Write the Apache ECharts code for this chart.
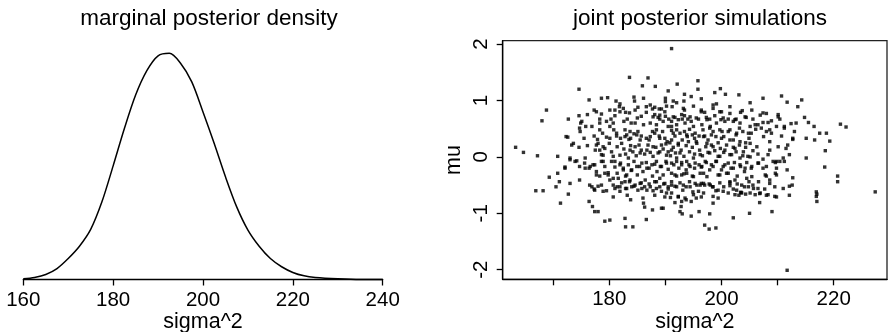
<!DOCTYPE html>
<html>
<head>
<meta charset="utf-8">
<script src="https://cdn.jsdelivr.net/npm/echarts@6/dist/echarts.min.js"></script>
<style>
  html, body { margin: 0; padding: 0; background: #fff; }
  #chart { width: 892px; height: 332px; }
</style>
</head>
<body>
<div id="chart"></div>
<script>
// Marginal posterior density of sigma^2 (relative height)
const densitySigma2 = [160, 162.5, 165, 167.5, 170, 172.5, 175, 177.5, 180, 182.5, 185, 187.5, 190, 192.5,
  195, 197.5, 200, 202.5, 205, 207.5, 210, 212.5, 215, 217.5, 220, 222.5, 225, 230, 235, 240];
const densityValues = [0.003, 0.009, 0.022, 0.048, 0.092, 0.146, 0.220, 0.341, 0.499, 0.663, 0.810, 0.917, 0.982, 0.993,
  0.950, 0.868, 0.736, 0.597, 0.451, 0.319, 0.217, 0.146, 0.092, 0.056, 0.031, 0.016, 0.009, 0.003, 0.0, 0.0];

// Tick values
const densityTicks = [160, 180, 200, 220, 240];
const scatterTicks = [170, 180, 190, 200, 210, 220];
const scatterTickLabels = [180, 200, 220];
const muTicks = [-2, -1, 0, 1, 2];

// Joint posterior draws [sigma^2, mu], grouped by mu band
const drawsTop = [[191.1,1.92],[183.6,1.41],[186.9,1.40],[185.9,1.26],[188.2,1.25],[192.1,1.29],[195.8,1.35],[195.8,1.20],[174.6,1.20],[190.5,1.17],[193.4,1.11],[198.8,1.14],[199.8,1.21],[200.7,1.11],[203.1,1.10],[207.4,1.04],[210.7,1.08],[211.7,0.97],[214.3,1.01],[213.6,0.89],[205.1,0.96],[176.4,1.01],[178.6,1.04],[179.7,1.05],[181.2,0.99],[181.8,0.89],[182.5,0.86],[184.5,0.99],[184.4,1.06],[186.1,1.04],[185.1,0.88],[186.6,0.89],[188.1,0.88],[188.9,0.85],[190.0,1.04],[190.0,0.98],[191.4,0.99],[192.0,0.96],[190.2,0.90],[193.3,0.99],[194.6,1.07],[196.4,1.03],[199.1,0.94],[198.5,0.86],[196.4,0.83],[193.4,0.83],[191.2,0.89],[201.5,0.89],[168.8,0.83],
  [187.3,0.92],[189.3,0.85],[180.1,0.83],[181.9,0.94],[184.6,0.83],[193.2,0.86],[195.0,0.90],[198.5,0.92],[205.4,0.83]];
const drawsHigh = [[168.0,0.64],[172.7,0.67],[174.6,0.73],[176.1,0.75],[174.9,0.60],[177.3,0.83],[177.7,0.80],[178.6,0.76],[178.3,0.67],[179.5,0.63],[180.3,0.67],[181.0,0.83],[181.0,0.73],[181.9,0.80],[182.9,0.79],[183.6,0.78],[183.2,0.67],[182.6,0.63],[183.9,0.60],[185.0,0.69],[185.7,0.72],[186.6,0.79],[187.7,0.85],[188.1,0.75],[188.7,0.70],[189.0,0.67],[190.0,0.72],[190.6,0.67],[191.1,0.63],[191.7,0.70],[192.3,0.66],[192.9,0.75],[193.0,0.67],[193.4,0.73],[194.0,0.67],[194.6,0.63],[195.5,0.69],[196.4,0.80],[197.0,0.79],[197.3,0.70],[197.9,0.67],[198.8,0.73],[199.7,0.80],[199.9,0.66],[200.3,0.69],[201.2,0.67],[202.1,0.63],[202.6,0.67],[203.4,0.79],[203.7,0.82],[204.4,0.70],[205.6,0.67],[206.5,0.57],[207.4,0.78],[207.4,0.61],[208.3,0.61],[208.9,0.64],[210.1,0.75],[210.4,0.67],[211.2,0.54],[212.4,0.59],[213.3,0.60],[214.8,0.70],[215.5,0.61],[216.5,0.54],[221.2,0.58],[222.2,0.53],
  [187.8,0.71],[189.0,0.74],[189.9,0.80],[175.1,0.63],[176.9,0.54],[178.3,0.60],[180.7,0.60],[184.6,0.60],[186.1,0.57],[187.3,0.60],[188.4,0.57],[189.6,0.63],[190.5,0.54],
  [200.0,0.80],[201.5,0.77],[206.9,0.74],[208.0,0.77],[210.1,0.71],[191.4,0.71],[194.4,0.71],[195.9,0.67],[197.4,0.66],[199.1,0.60],[200.6,0.63],[202.4,0.66],[203.3,0.60],[204.2,0.71],[205.1,0.54],[206.0,0.57],[209.8,0.54],[191.1,0.54],[192.0,0.57],[193.5,0.60],[195.0,0.54],[196.5,0.57]];
const drawsUpperMid = [[174.7,0.51],[175.8,0.54],[172.3,0.36],[172.6,0.35],[175.5,0.33],[177.3,0.37],[177.9,0.31],[178.3,0.48],[178.8,0.42],[179.5,0.35],[180.1,0.54],[180.8,0.48],[181.3,0.37],[182.0,0.33],[182.8,0.48],[183.1,0.39],[183.5,0.31],[183.8,0.33],[184.4,0.41],[185.1,0.45],[185.7,0.37],[186.6,0.33],[187.1,0.30],[187.7,0.45],[188.4,0.48],[188.9,0.37],[189.5,0.45],[189.9,0.33],[190.3,0.27],[190.8,0.25],[191.1,0.47],[191.7,0.37],[192.0,0.48],[192.6,0.42],[193.0,0.30],[193.4,0.45],[193.9,0.36],[194.3,0.49],[194.8,0.39],[195.2,0.33],[195.5,0.27],[196.0,0.37],[196.7,0.48],[197.0,0.37],[197.6,0.30],[198.0,0.54],[198.5,0.45],[199.0,0.36],[199.4,0.25],[200.1,0.45],[200.4,0.36],[201.5,0.48],[202.1,0.30],[202.6,0.39],[203.2,0.51],[203.8,0.45],[204.3,0.25],[204.9,0.33],[205.3,0.42],[206.1,0.49],[207.1,0.51],[208.0,0.45],[208.6,0.27],[210.7,0.37],[211.2,0.51],[212.7,0.33],[213.0,0.45],[215.1,0.33],[216.6,0.30],[217.5,0.42],[218.7,0.42],[219.3,0.28],[173.3,0.21],
  [173.6,0.24],[178.0,0.24],[180.1,0.33],[181.3,0.42],[182.8,0.36],[183.7,0.45],[184.9,0.39],[185.5,0.30],[187.3,0.36],[188.1,0.42],[189.0,0.33],[174.8,0.45],
  [197.9,0.51],[199.7,0.48],[201.2,0.45],[202.7,0.42],[204.8,0.42],[207.5,0.36],[208.9,0.42],[208.6,0.48],[191.4,0.42],[193.8,0.39],[195.3,0.42],[196.8,0.36],[198.2,0.39],[200.0,0.33],[201.5,0.30],[203.3,0.27],[205.1,0.24],[191.1,0.30],[192.3,0.24],[194.1,0.27],[197.4,0.24]];
const drawsCentre = [[163.3,0.17],[164.7,0.08],[167.2,0.02],[170.8,0.01],[174.6,0.17],[176.1,0.20],[177.7,0.21],[178.3,0.12],[178.6,0.04],[179.2,0.15],[180.0,0.24],[180.4,0.09],[180.7,0.01],[181.4,0.18],[182.2,0.24],[182.6,0.14],[182.9,0.05],[183.4,-0.02],[183.8,0.20],[184.2,0.09],[184.8,0.02],[185.3,0.21],[185.7,0.12],[186.3,0.05],[186.9,0.21],[187.3,0.08],[187.8,0.01],[188.3,0.17],[188.7,0.07],[189.3,0.21],[189.6,0.14],[190.1,0.23],[190.5,0.09],[190.9,0.02],[191.4,0.17],[191.8,0.07],[192.3,0.21],[192.8,0.12],[193.3,0.01],[193.7,0.20],[194.3,0.09],[194.8,0.17],[195.2,0.05],[195.6,0.24],[196.1,0.12],[196.6,0.02],[197.2,0.18],[197.6,0.08],[198.2,0.21],[198.8,0.11],[199.4,0.01],[199.8,0.15],[200.4,0.08],[200.9,0.21],[201.5,0.04],[202.1,0.17],[202.6,0.09],[203.2,0.21],[203.8,0.02],[204.3,0.17],[204.7,0.01],[205.6,0.11],[206.5,0.05],[207.4,-0.04],[208.3,0.04],[208.6,0.12],[209.8,-0.08],[211.0,-0.02],[211.5,0.15],[212.1,0.04],[211.8,0.21],[212.7,0.31],[215.1,-0.02],[218.5,0.11],
  [178.9,0.18],[177.5,0.12],[178.9,0.03],[181.9,0.03],[183.7,0.12],[184.6,0.18],[185.5,0.07],[186.7,0.12],[187.8,0.18],[189.0,0.09],[190.2,0.03],[173.0,-0.02],[175.7,-0.02],
  [206.3,0.18],[198.5,0.18],[200.6,0.12],[202.4,0.15],[203.9,0.09],[205.1,0.00],[191.1,0.12],[192.6,0.07],[196.2,0.04],[197.9,0.07],[199.7,0.01],[201.8,0.04],[203.3,-0.02],[192.0,-0.02],[195.0,-0.02],[210.1,0.18]];
const drawsLowerMid = [[169.3,-0.36],[170.8,-0.29],[172.1,-0.18],[173.0,-0.05],[174.2,-0.07],[174.7,-0.17],[175.6,-0.11],[176.4,-0.20],[177.1,-0.14],[177.7,-0.26],[178.3,-0.34],[178.6,-0.08],[179.2,-0.17],[179.8,-0.28],[180.4,-0.08],[181.0,-0.18],[181.4,-0.29],[182.0,-0.11],[182.5,-0.23],[182.9,-0.34],[183.4,-0.14],[183.9,-0.24],[184.4,-0.08],[185.0,-0.32],[185.4,-0.17],[186.0,-0.26],[186.6,-0.10],[187.1,-0.20],[187.7,-0.34],[188.1,-0.13],[188.5,-0.26],[189.1,-0.17],[189.6,-0.32],[190.1,-0.08],[190.5,-0.22],[191.1,-0.29],[191.5,-0.14],[192.0,-0.34],[192.4,-0.20],[192.9,-0.10],[193.3,-0.30],[193.7,-0.23],[194.2,-0.14],[194.8,-0.34],[195.2,-0.20],[196.0,-0.14],[196.4,-0.18],[196.8,-0.29],[197.3,-0.10],[197.9,-0.23],[198.5,-0.17],[199.0,-0.08],[199.4,-0.32],[200.0,-0.23],[200.6,-0.14],[201.2,-0.29],[201.7,-0.20],[202.3,-0.10],[202.8,-0.34],[203.4,-0.17],[204.1,-0.26],[204.5,-0.10],[205.3,-0.20],[206.5,-0.11],[207.4,-0.20],[208.0,-0.34],[209.6,-0.10],[209.6,-0.29],[210.4,-0.08],[211.2,-0.08],[211.7,-0.23],[212.7,-0.37],[218.4,-0.18],[220.7,-0.34],
  [172.1,-0.20],[173.9,-0.08],[175.7,-0.20],[176.6,-0.17],[177.4,-0.14],[178.9,-0.08],[181.0,-0.08],[181.9,-0.14],[182.5,-0.20],[183.1,-0.32],[184.0,-0.23],[184.9,-0.17],[185.8,-0.11],[186.7,-0.20],[187.6,-0.14],[188.4,-0.08],[189.3,-0.17],[190.2,-0.11],[177.7,-0.32],[179.2,-0.29],[179.8,-0.32],
  [191.1,-0.11],[192.0,-0.08],[192.9,-0.14],[193.8,-0.08],[194.4,-0.17],[195.3,-0.11],[196.5,-0.17],[197.1,-0.08],[198.2,-0.14],[199.1,-0.08],[200.3,-0.17],[201.2,-0.11],[202.1,-0.20],[203.3,-0.14],[204.2,-0.20],[205.4,-0.17],[206.6,-0.11],[208.0,-0.17],[209.2,-0.08],[209.8,-0.20],[191.7,-0.32],[192.9,-0.32],[193.8,-0.29],[195.0,-0.35],[196.2,-0.29],[197.4,-0.35],[199.7,-0.32],[200.9,-0.29],[205.4,-0.35],[207.8,-0.32],[209.8,-0.32]];
const drawsLow = [[166.9,-0.60],[168.2,-0.60],[170.5,-0.53],[171.1,-0.44],[173.0,-0.47],[174.7,-0.41],[176.5,-0.50],[177.3,-0.57],[178.0,-0.52],[178.6,-0.50],[179.5,-0.60],[180.1,-0.41],[180.7,-0.50],[181.4,-0.53],[182.2,-0.46],[182.9,-0.56],[183.6,-0.44],[184.4,-0.52],[185.1,-0.59],[185.7,-0.46],[186.3,-0.53],[187.1,-0.48],[187.8,-0.60],[188.4,-0.44],[189.0,-0.53],[189.7,-0.48],[190.5,-0.57],[191.1,-0.44],[191.7,-0.52],[192.6,-0.46],[193.1,-0.59],[193.7,-0.53],[194.3,-0.44],[194.9,-0.62],[195.6,-0.50],[196.4,-0.47],[197.0,-0.50],[197.8,-0.48],[198.4,-0.53],[199.0,-0.60],[199.7,-0.46],[200.4,-0.53],[201.5,-0.46],[202.1,-0.57],[202.8,-0.48],[203.4,-0.63],[204.1,-0.53],[204.3,-0.66],[204.9,-0.44],[205.6,-0.50],[206.5,-0.56],[206.8,-0.65],[207.7,-0.57],[208.6,-0.47],[209.5,-0.53],[211.0,-0.56],[212.1,-0.52],[212.6,-0.50],[216.9,-0.62],[217.0,-0.66],[220.7,-0.44],[227.4,-0.62],
  [180.7,-0.38],[181.6,-0.38],[182.8,-0.44],[183.7,-0.41],[184.6,-0.50],[185.5,-0.47],[186.4,-0.41],[187.3,-0.53],[188.1,-0.44],[189.0,-0.38],[189.9,-0.47],[190.5,-0.53],[176.9,-0.53],[177.4,-0.59],[178.9,-0.61],[181.0,-0.56],[181.9,-0.53],[183.1,-0.56],[184.0,-0.53],[185.8,-0.56],[186.7,-0.59],[188.4,-0.56],[189.3,-0.61],[190.2,-0.64],[181.9,-0.61],
  [198.0,-0.50],[196.8,-0.47],[198.5,-0.53],[201.5,-0.44],[202.4,-0.41],[203.6,-0.50],[204.5,-0.38],[206.6,-0.44],[208.6,-0.41],[191.1,-0.50],[192.0,-0.53],[193.2,-0.50],[194.4,-0.53],[195.3,-0.47],[196.2,-0.50],[199.4,-0.59],[200.3,-0.61],[201.2,-0.64],[203.6,-0.64],[205.1,-0.64],[206.9,-0.64],[191.1,-0.64],[195.9,-0.61],[196.8,-0.64],[202.7,-0.59],[201.5,-0.51],[204.8,-0.53],[205.7,-0.56]];
const drawsLower = [[171.3,-0.82],[172.7,-0.66],[176.4,-0.79],[177.0,-0.88],[180.7,-0.71],[183.2,-0.68],[183.8,-0.76],[186.0,-0.73],[186.1,-0.82],[186.3,-0.89],[188.1,-0.68],[189.3,-0.91],[189.9,-0.71],[190.9,-0.72],[191.7,-0.81],[192.3,-0.71],[192.8,-0.88],[193.7,-0.76],[194.6,-0.79],[195.5,-0.73],[196.4,-0.71],[199.4,-0.73],[203.1,-0.68],[203.5,-0.63],[206.8,-0.81],[208.0,-0.68],[209.8,-0.71],[212.1,-0.68],[216.9,-0.70],[217.0,-0.79],
  [202.4,-0.67],[206.0,-0.67],[208.3,-0.67],[209.5,-0.70],[192.3,-0.70],[193.5,-0.73],[195.0,-0.67],[198.5,-0.70],[198.5,-0.82],[192.9,-0.79]];
const drawsBottom = [[177.4,-0.97],[178.0,-0.97],[179.2,-1.14],[180.1,-1.12],[182.8,-1.09],[182.9,-1.24],[184.2,-1.24],[186.6,-1.11],[187.7,-0.94],[189.6,-0.91],[192.6,-0.97],[193.0,-1.01],[194.6,-1.05],[196.0,-0.97],[197.9,-1.01],[197.0,-1.21],[197.8,-1.28],[199.0,-1.26],[202.1,-1.08],[205.0,-1.00],[209.0,-0.97],[211.7,-2.01]];

const draws = [].concat(drawsTop, drawsHigh, drawsUpperMid, drawsCentre, drawsLowerMid, drawsLow, drawsLower, drawsBottom);

const FONT = 'Liberation Sans, Arial, Helvetica, sans-serif';
const INK = '#000';

const chart = echarts.init(document.getElementById('chart'), null, { renderer: 'canvas' });

chart.setOption({
  animation: false,
  backgroundColor: '#fff',
  textStyle: { fontFamily: FONT, color: INK },
  title: [
    { text: 'marginal posterior density', left: 204, top: 2, textAlign: 'center',
      textStyle: { fontFamily: FONT, fontSize: 22.5, fontWeight: 'normal', color: INK } },
    { text: 'joint posterior simulations', left: 695, top: 2, textAlign: 'center',
      textStyle: { fontFamily: FONT, fontSize: 22.5, fontWeight: 'normal', color: INK } }
  ],
  grid: [
    { left: 23.3, right: 509.3, top: 49.5, bottom: 52.5, show: false,
      containLabel: false, outerBoundsMode: 'none' },
    { left: 502.7, right: 5, top: 40.7, bottom: 52.7, show: true,
      containLabel: false, outerBoundsMode: 'none',
      borderColor: '#222', borderWidth: 1.3, backgroundColor: 'transparent' }
  ],
  xAxis: [
    {
      gridIndex: 0, type: 'value', min: 160, max: 240, interval: 20,
      name: 'sigma^2', nameLocation: 'middle', nameGap: 32, nameMoveOverlap: false,
      nameTextStyle: { fontFamily: FONT, fontSize: 21.5, color: INK, verticalAlign: 'top' },
      axisLine: { show: true, lineStyle: { color: INK, width: 1.3 } },
      axisTick: { show: true, inside: false, length: 6, lineStyle: { color: INK, width: 1.3 } },
      axisLabel: { fontFamily: FONT, fontSize: 20.5, color: INK, margin: 10,
        customValues: densityTicks },
      splitLine: { show: false }
    },
    {
      gridIndex: 1, type: 'value', min: 161, max: 229.5,
      name: 'sigma^2', nameLocation: 'middle', nameGap: 32, nameMoveOverlap: false,
      nameTextStyle: { fontFamily: FONT, fontSize: 21.5, color: INK, verticalAlign: 'top' },
      axisLine: { show: true, onZero: false, lineStyle: { color: INK, width: 1.3 } },
      axisTick: { show: true, length: 6, lineStyle: { color: INK, width: 1.3 }, customValues: scatterTicks },
      axisLabel: { fontFamily: FONT, fontSize: 20.5, color: INK, margin: 10, customValues: scatterTickLabels },
      splitLine: { show: false }
    }
  ],
  yAxis: [
    {
      gridIndex: 0, type: 'value', min: 0, max: 1.01, show: false
    },
    {
      gridIndex: 1, type: 'value', min: -2.17, max: 2.06,
      name: 'mu', nameLocation: 'middle', nameGap: 38, nameRotate: 90, nameMoveOverlap: false,
      nameTextStyle: { fontFamily: FONT, fontSize: 21.5, color: INK },
      axisLine: { show: true, onZero: false, lineStyle: { color: INK, width: 1.3 } },
      axisTick: { show: true, length: 6, lineStyle: { color: INK, width: 1.3 }, customValues: muTicks },
      axisLabel: { fontFamily: FONT, fontSize: 20.5, color: INK, margin: 11, rotate: 90,
        align: 'center', verticalAlign: 'bottom', customValues: muTicks },
      splitLine: { show: false }
    }
  ],
  series: [
    {
      type: 'line', xAxisIndex: 0, yAxisIndex: 0,
      data: densitySigma2.map((v, i) => [v, densityValues[i]]),
      smooth: 0.3, showSymbol: false, clip: false,
      lineStyle: { color: INK, width: 1.5 }
    },
    {
      type: 'scatter', xAxisIndex: 1, yAxisIndex: 1,
      data: draws, symbol: 'rect', symbolSize: 3.4,
      itemStyle: { color: INK }
    }
  ]
});
</script>
</body>
</html>
